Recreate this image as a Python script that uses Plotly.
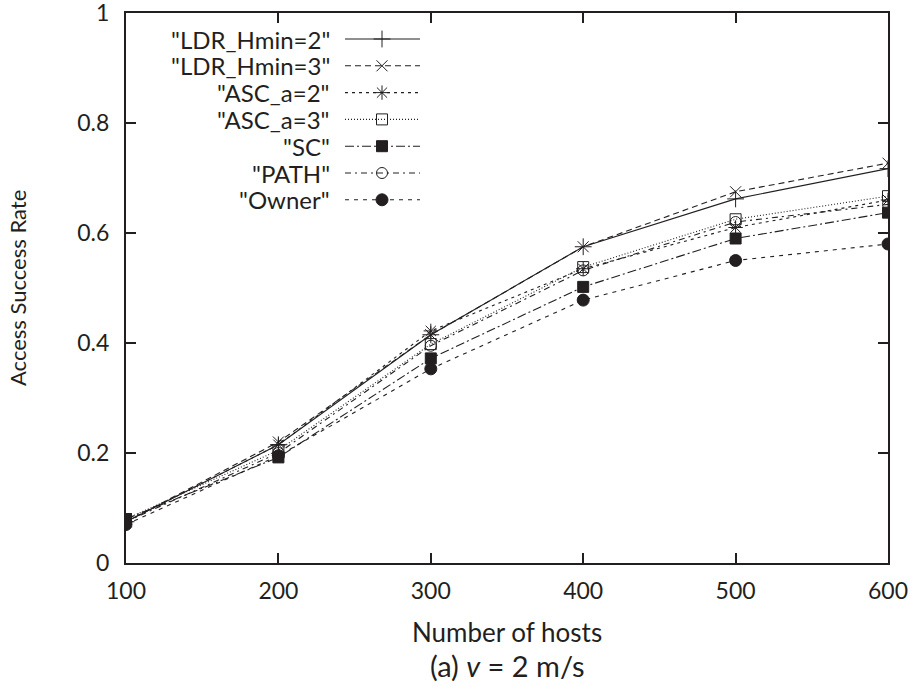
import plotly.graph_objects as go

hosts = [100, 200, 300, 400, 500, 600]
ldr_hmin2 = [0.075, 0.215, 0.415, 0.575, 0.662, 0.717]
ldr_hmin3 = [0.075, 0.220, 0.415, 0.575, 0.675, 0.727]
asc_a2 = [0.075, 0.215, 0.422, 0.535, 0.610, 0.660]
asc_a3 = [0.080, 0.205, 0.398, 0.538, 0.625, 0.667]
sc = [0.080, 0.192, 0.372, 0.502, 0.590, 0.637]
path = [0.075, 0.200, 0.395, 0.532, 0.620, 0.652]
owner = [0.070, 0.195, 0.353, 0.478, 0.550, 0.580]

names = ['"LDR_Hmin=2"', '"LDR_Hmin=3"', '"ASC_a=2"', '"ASC_a=3"', '"SC"', '"PATH"', '"Owner"']
series = [ldr_hmin2, ldr_hmin3, asc_a2, asc_a3, sc, path, owner]

INK = "#231f20"
styles = [
    dict(dash="solid", symbol="cross-thin-open", size=12),
    dict(dash="6px,4px", symbol="x-thin-open", size=11),
    dict(dash="3px,4px", symbol="asterisk-open", size=12),
    dict(dash="1px,2px", symbol="square-open", size=11),
    dict(dash="9px,3px,2px,3px", symbol="square", size=11),
    dict(dash="6px,4px,2px,4px", symbol="circle-open", size=11),
    dict(dash="4px,5px", symbol="circle", size=12),
]

FONT = "Lato"
fig = go.Figure()

for name, ys, st in zip(names, series, styles):
    fig.add_trace(go.Scatter(
        x=hosts, y=ys, mode="lines+markers", name=name, showlegend=False,
        line=dict(color=INK, width=1.1, dash=st["dash"]),
        marker=dict(symbol=st["symbol"], size=st["size"], color=INK,
                    line=dict(color=INK, width=1)),
    ))

# plot area in page pixels
W, H = 913, 691
L, R, T, B = 126, 888, 13, 563
row0, rowstep = 39, 26.8
for i, (name, st) in enumerate(zip(names, styles)):
    yy = row0 + rowstep * i
    fig.add_trace(go.Scatter(
        x=[345, 420], y=[yy, yy], mode="lines", showlegend=False,
        xaxis="x2", yaxis="y2", hoverinfo="skip",
        line=dict(color=INK, width=1.1, dash=st["dash"]),
    ))
    fig.add_trace(go.Scatter(
        x=[382], y=[yy], mode="markers", showlegend=False,
        xaxis="x2", yaxis="y2", hoverinfo="skip",
        marker=dict(symbol=st["symbol"], size=st["size"], color=INK,
                    line=dict(color=INK, width=1)),
    ))
    fig.add_annotation(x=332, y=yy, xref="x2", yref="y2", text=name, showarrow=False,
                       xanchor="right", yanchor="middle",
                       font=dict(family=FONT, size=24, color=INK))

fig.add_annotation(x=0.5, y=(B - 632) / (B - T), xref="paper", yref="paper",
                   text="Number of hosts", showarrow=False, yanchor="middle",
                   font=dict(family=FONT, size=26, color=INK))
fig.add_annotation(x=0.5, y=(B - 665) / (B - T), xref="paper", yref="paper",
                   text="(a) <i>v</i> = 2 m/s", showarrow=False, yanchor="middle",
                   font=dict(family=FONT, size=29, color=INK))
fig.add_annotation(x=(17 - L) / (R - L), y=0.5, xref="paper", yref="paper",
                   text="Access Success Rate", showarrow=False, textangle=-90,
                   xanchor="center", yanchor="middle",
                   font=dict(family=FONT, size=22, color=INK))

axis_common = dict(showline=True, linecolor=INK, linewidth=2, mirror="ticks",
                   ticks="inside", ticklen=10, tickwidth=1.5, tickcolor=INK,
                   showgrid=False, zeroline=False, ticklabeloverflow="allow",
                   tickfont=dict(family=FONT, size=23, color=INK))

fig.update_layout(
    width=W, height=H,
    margin=dict(l=L, r=W - R, t=T, b=H - B, autoexpand=False),
    paper_bgcolor="white", plot_bgcolor="white",
    xaxis=dict(range=[100, 600], tickvals=hosts, ticklabelstandoff=6, automargin=False,
               **axis_common),
    yaxis=dict(range=[0, 1], tickvals=[0, 0.2, 0.4, 0.6, 0.8, 1],
               ticktext=["0", "0.2", "0.4", "0.6", "0.8", "1"], ticklabelstandoff=10,
               automargin=False, **axis_common),
    xaxis2=dict(range=[L, R], overlaying="x", visible=False, fixedrange=True),
    yaxis2=dict(range=[B, T], overlaying="y", visible=False, fixedrange=True),
)

fig.write_html("out.html", config={"displayModeBar": False},
               post_script="document.body.style.margin='0';document.body.style.overflow='hidden';")
